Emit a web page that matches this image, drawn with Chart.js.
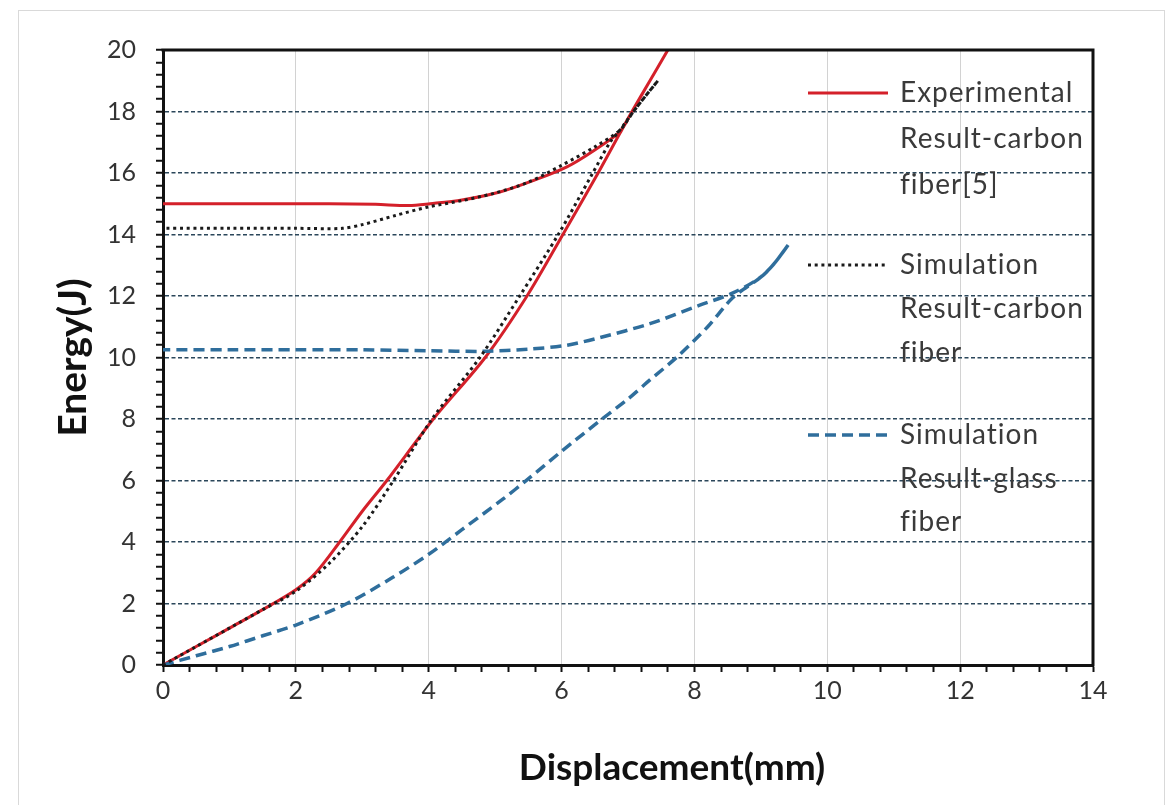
<!DOCTYPE html>
<html>
<head>
<meta charset="utf-8">
<title>Energy vs Displacement</title>
<script src="https://cdn.jsdelivr.net/npm/chart.js@4.4.1/dist/chart.umd.min.js"></script>
<style>
  html, body { margin: 0; padding: 0; background: #fff; }
  #wrap { position: relative; width: 1175px; height: 805px; }
</style>
</head>
<body>
<div id="wrap"><canvas id="chart"></canvas></div>
<script>
// Axis ranges and labelled (major) tick values
const xMajorTicks = [0, 2, 4, 6, 8, 10, 12, 14];
const yMajorTicks = [0, 2, 4, 6, 8, 10, 12, 14, 16, 18, 20];
const minorStep = 0.4;

// Experimental result - carbon fiber [5]: loading branch then rebound branch
const expDisp   = [0, 0.5, 1.0, 1.5, 2.0, 2.3, 2.66, 3.0, 3.37, 4.07, 4.85, 5.48, 6.02, 6.55, 6.88, 7.06, 7.33, 7.6,
                   7.33, 7.06, 6.88, 6.5, 6.08, 5.57, 5.07, 4.5, 4.02, 3.7, 3.2, 2.5, 1.0, 0];
const expEnergy = [0, 0.6, 1.2, 1.8, 2.45, 3.0, 4.0, 5.0, 6.0, 8.0, 10.0, 12.0, 14.0, 16.0, 17.3, 18.0, 19.0, 20.0,
                   19.0, 18.0, 17.35, 16.75, 16.2, 15.75, 15.38, 15.12, 15.0, 14.94, 14.98, 15.0, 15.0, 15.0];

// Simulation result - carbon fiber
const simCarbonDisp   = [0, 0.5, 1.0, 1.5, 2.0, 2.5, 3.0, 3.47, 4.05, 4.77, 5.37, 5.95, 6.47, 6.73, 6.88, 7.1, 7.3, 7.45,
                         7.3, 7.1, 6.88, 6.5, 6.0, 5.5, 5.0, 4.5, 4.0, 3.5, 3.0, 2.7, 2.0, 1.0, 0];
const simCarbonEnergy = [0, 0.6, 1.2, 1.8, 2.4, 3.3, 4.5, 6.0, 8.0, 10.0, 12.0, 14.0, 16.0, 17.0, 17.4, 18.05, 18.6, 19.0,
                         18.6, 18.05, 17.4, 16.85, 16.25, 15.7, 15.35, 15.1, 14.9, 14.62, 14.32, 14.2, 14.2, 14.2, 14.2];

// Simulation result - glass fiber
const simGlassDisp   = [0, 0.5, 1.0, 1.5, 2.0, 2.77, 3.46, 4.0, 4.5, 5.12, 5.48, 6.0, 6.58, 7.0, 7.33, 7.74, 8.2, 8.58, 8.99, 9.2, 9.41,
                        9.2, 8.99, 8.58, 8.08, 7.33, 6.58, 6.08, 5.5, 4.82, 4.0, 3.0, 2.0, 1.0, 0];
const simGlassEnergy = [0, 0.3, 0.6, 0.95, 1.3, 2.0, 2.85, 3.6, 4.4, 5.4, 6.02, 6.95, 7.95, 8.65, 9.27, 10.02, 11.0, 11.95, 12.6, 13.05, 13.66,
                        13.05, 12.6, 12.1, 11.7, 11.1, 10.65, 10.4, 10.27, 10.2, 10.22, 10.25, 10.25, 10.25, 10.25];

// Legend text, one entry per series (wrapped lines)
const legendTexts = [
  ['Experimental', 'Result-carbon', 'fiber[5]'],
  ['Simulation', 'Result-carbon', 'fiber'],
  ['Simulation', 'Result-glass', 'fiber']
];

const xTitle = 'Displacement(mm)';
const yTitle = 'Energy(J)';

const toPoints = (xs, ys) => xs.map((x, i) => ({ x: x, y: ys[i] }));
const isMajor = (v, majors) => majors.some(m => Math.abs(m - v) < 1e-6);

const FONT = 'Lato, "Open Sans", "DejaVu Sans", sans-serif';

// White page with a thin grey frame around the figure
const framePlugin = {
  id: 'frame',
  beforeDraw(chart) {
    const ctx = chart.ctx;
    ctx.save();
    ctx.fillStyle = '#ffffff';
    ctx.fillRect(0, 0, chart.width, chart.height);
    ctx.strokeStyle = '#d9d9d9';
    ctx.lineWidth = 1;
    ctx.strokeRect(18.5, 10.5, 1146, 830);
    ctx.restore();
  }
};

// Closes the plot box (top and right edges)
const boxPlugin = {
  id: 'plotBox',
  afterDatasetsDraw(chart) {
    const { ctx, chartArea: a } = chart;
    ctx.save();
    ctx.strokeStyle = '#111111';
    ctx.lineWidth = 3;
    ctx.beginPath();
    ctx.moveTo(a.left - 1.5, a.top);
    ctx.lineTo(a.right, a.top);
    ctx.lineTo(a.right, a.bottom + 1.5);
    ctx.stroke();
    ctx.restore();
  }
};

// Horizontal axis title, set a little right of the plot centre
const xTitlePlugin = {
  id: 'xTitle',
  afterDraw(chart) {
    const { ctx, chartArea: a } = chart;
    ctx.save();
    ctx.fillStyle = '#111111';
    ctx.font = 'bold 37px ' + FONT;
    ctx.textAlign = 'center';
    ctx.textBaseline = 'middle';
    ctx.fillText(xTitle, (a.left + a.right) / 2 + 44, a.bottom + 103);
    ctx.restore();
  }
};

// Legend drawn inside the plot, at the upper right, with wrapped labels
const sideLegendPlugin = {
  id: 'sideLegend',
  afterDraw(chart) {
    const { ctx, chartArea: a } = chart;
    const sampleX0 = a.right - 285;
    const sampleX1 = a.right - 205;
    const textX = a.right - 193;
    const groupTop = [a.top + 43, a.top + 215, a.top + 385];
    const lineGap = [46, 44, 43.5];
    ctx.save();
    chart.data.datasets.forEach((ds, i) => {
      const y = groupTop[i];
      ctx.strokeStyle = ds.borderColor;
      ctx.lineWidth = ds.borderWidth;
      ctx.setLineDash(ds.borderDash || []);
      ctx.beginPath();
      ctx.moveTo(sampleX0, y);
      ctx.lineTo(sampleX1, y);
      ctx.stroke();
      ctx.setLineDash([]);
      ctx.fillStyle = '#3a3a3a';
      ctx.font = '28px ' + FONT;
      if ('letterSpacing' in ctx) ctx.letterSpacing = '1px';
      ctx.textBaseline = 'middle';
      ctx.textAlign = 'left';
      legendTexts[i].forEach((t, k) => ctx.fillText(t, textX, y + k * lineGap[i]));
    });
    ctx.restore();
  }
};

new Chart(document.getElementById('chart'), {
  type: 'line',
  data: {
    datasets: [
      {
        label: legendTexts[0].join(' '),
        data: toPoints(expDisp, expEnergy),
        borderColor: '#d4202a',
        borderWidth: 3,
        order: 2
      },
      {
        label: legendTexts[1].join(' '),
        data: toPoints(simCarbonDisp, simCarbonEnergy),
        borderColor: '#1a1a1a',
        borderWidth: 3,
        borderDash: [3, 3.7],
        order: 0
      },
      {
        label: legendTexts[2].join(' '),
        data: toPoints(simGlassDisp, simGlassEnergy),
        borderColor: '#2f6e9c',
        borderWidth: 3.5,
        borderDash: [11, 6],
        order: 1
      }
    ]
  },
  options: {
    responsive: true,
    maintainAspectRatio: false,
    animation: false,
    layout: { padding: { left: 0, top: 50, right: 82, bottom: 0 } },
    elements: {
      point: { radius: 0, hoverRadius: 0 },
      line: { tension: 0.3, fill: false, borderCapStyle: 'butt' }
    },
    plugins: {
      legend: { display: false },
      tooltip: { enabled: false }
    },
    scales: {
      x: {
        type: 'linear',
        min: xMajorTicks[0],
        max: xMajorTicks[xMajorTicks.length - 1],
        ticks: {
          stepSize: minorStep,
          autoSkip: false,
          maxTicksLimit: 200,
          maxRotation: 0,
          padding: 4,
          color: '#333333',
          font: { family: FONT, size: 25 },
          callback: v => isMajor(v, xMajorTicks) ? String(Math.round(v)) : ''
        },
        grid: {
          color: c => (c.tick && isMajor(c.tick.value, xMajorTicks)) ? '#d2d2d2' : 'rgba(0,0,0,0)',
          lineWidth: 1,
          tickColor: '#111111',
          tickWidth: 2,
          tickLength: 7,
          tickBorderDash: []
        },
        border: { color: '#111111', width: 3 },
        title: { display: false },
        afterFit: s => { s.height = 140; }
      },
      y: {
        type: 'linear',
        min: yMajorTicks[0],
        max: yMajorTicks[yMajorTicks.length - 1],
        ticks: {
          stepSize: minorStep,
          autoSkip: false,
          maxTicksLimit: 200,
          padding: 20,
          color: '#333333',
          font: { family: FONT, size: 25 },
          callback: v => isMajor(v, yMajorTicks) ? String(Math.round(v)) : ''
        },
        grid: {
          color: c => (c.tick && isMajor(c.tick.value, yMajorTicks)) ? '#2a465a' : 'rgba(0,0,0,0)',
          lineWidth: 1.5,
          tickColor: '#111111',
          tickWidth: 2,
          tickLength: 7,
          tickBorderDash: []
        },
        border: { color: '#111111', width: 3, dash: [4, 2.5] },
        title: {
          display: true,
          text: yTitle,
          color: '#111111',
          font: { family: FONT, size: 39, weight: 'bold' },
          padding: { top: 50, bottom: 0 }
        },
        afterFit: s => { s.width = 163; }
      }
    }
  },
  plugins: [framePlugin, boxPlugin, xTitlePlugin, sideLegendPlugin]
});
</script>
</body>
</html>
